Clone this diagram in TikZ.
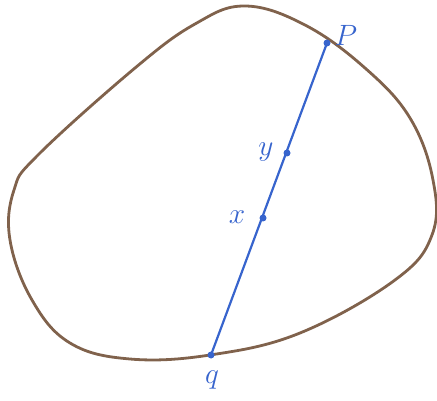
\documentclass[tikz,border=0pt]{standalone}
\usepackage{graphicx}
\begin{document}
\begin{tikzpicture}[x=1pt,y=-1pt,
  blob/.style={draw=blobbrown,line width=2.8pt},
  seg/.style={draw=penblue,line width=2.2pt,line cap=round},
  pdot/.style={circle,fill=penblue,inner sep=0pt,minimum size=7pt},
  lbl/.style={text=penblue,font=\LARGE}]
\definecolor{blobbrown}{RGB}{128,98,76}
\definecolor{penblue}{RGB}{55,100,205}
\useasboundingbox (0,0) rectangle (437,401);
\draw[blob] plot[smooth cycle,tension=0.65] coordinates {
 (245,6) (305,25) (365,68) (410,118) (433,180) (432,235)
 (395,280) (300,333) (210,355) (130,359) (70,343) (32,300)
 (10,240) (14,190) (38,155) (135,68) (195,24)};
\node[pdot] (p) at (327,43) {};
\node[pdot] (y) at (287,153) {};
\node[pdot] (x) at (263,218) {};
\node[pdot] (q) at (211,355) {};
\draw[seg] (q.center) -- (p.center);
\node[lbl] (lp) at (346,35) {\scalebox{1.7}{$P$}};
\node[lbl] (ly) at (266,152) {\scalebox{1.7}{$y$}};
\node[lbl] (lx) at (237,217) {\scalebox{1.7}{$x$}};
\node[lbl] (lq) at (212,380) {\scalebox{1.7}{$q$}};
\end{tikzpicture}
\end{document}
